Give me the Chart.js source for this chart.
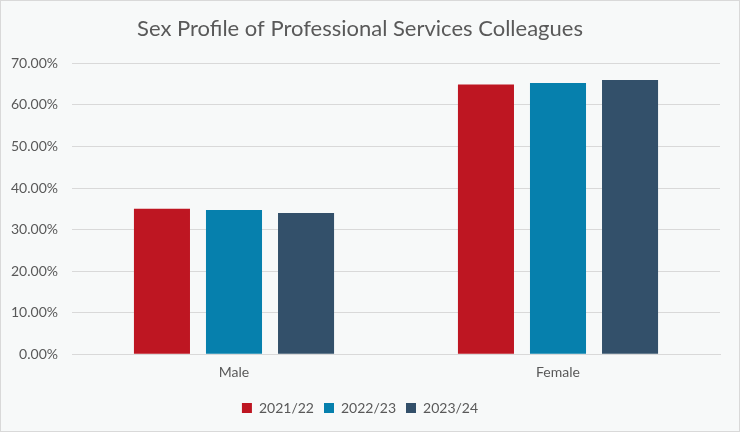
<!DOCTYPE html>
<html>
<head>
<meta charset="utf-8">
<script src="https://cdn.jsdelivr.net/npm/chart.js@4"></script>
<style>
  html, body { margin: 0; padding: 0; background: #ffffff; }
  #wrap { width: 740px; height: 432px; position: relative; }
</style>
</head>
<body>
<div id="wrap"><canvas id="sexChart"></canvas></div>
<script>
// Chart data
const categories = ['Male', 'Female'];
const seriesLabels = ['2021/22', '2022/23', '2023/24'];
const values2122 = [35.0, 64.9];
const values2223 = [34.7, 65.3];
const values2324 = [34.0, 66.0];
const seriesColors = ['#BE1622', '#0680AD', '#33506A'];

// Paint the panel background and its thin outline
const panelBackground = {
    id: 'panelBackground',
    beforeDraw(chart) {
        const ctx = chart.ctx;
        ctx.save();
        ctx.fillStyle = '#F7F9F9';
        ctx.fillRect(0, 0, chart.width, chart.height);
        ctx.strokeStyle = '#D9D9D9';
        ctx.lineWidth = 1;
        ctx.strokeRect(0.5, 0.5, chart.width - 1, chart.height - 1);
        ctx.restore();
    }
};

const allSeries = [values2122, values2223, values2324];

new Chart(document.getElementById('sexChart'), {
    type: 'bar',
    data: {
        labels: categories,
        datasets: allSeries.map((vals, i) => ({
            label: seriesLabels[i],
            data: vals,
            backgroundColor: seriesColors[i],
            borderWidth: 0,
            categoryPercentage: 0.667,
            barPercentage: 0.778
        }))
    },
    options: {
        responsive: true,
        maintainAspectRatio: false,
        animation: false,
        layout: {
            padding: { top: 16, right: 20, bottom: 7, left: 0 }
        },
        plugins: {
            title: {
                display: true,
                text: 'Sex Profile of Professional Services Colleagues',
                color: '#595959',
                font: { family: 'Lato', size: 22, weight: 'normal' },
                padding: { top: 0, bottom: 21 }
            },
            legend: {
                position: 'bottom',
                labels: {
                    color: '#595959',
                    font: { family: 'Lato', size: 14 },
                    boxWidth: 10,
                    boxHeight: 10,
                    padding: 10
                }
            },
            tooltip: { enabled: false }
        },
        scales: {
            y: {
                min: 0,
                max: 70,
                ticks: {
                    stepSize: 10,
                    color: '#595959',
                    font: { family: 'Lato', size: 14 },
                    padding: 14,
                    callback: function (value) {
                        return value.toFixed(2) + '%';
                    }
                },
                grid: {
                    color: '#D9D9D9',
                    drawTicks: false
                },
                border: { display: false },
                afterFit: function (scale) {
                    scale.width = 72;
                }
            },
            x: {
                ticks: {
                    color: '#595959',
                    font: { family: 'Lato', size: 14 },
                    padding: 10
                },
                grid: {
                    display: false,
                    drawTicks: false
                },
                border: { color: '#D9D9D9' }
            }
        }
    },
    plugins: [panelBackground]
});
</script>
</body>
</html>
